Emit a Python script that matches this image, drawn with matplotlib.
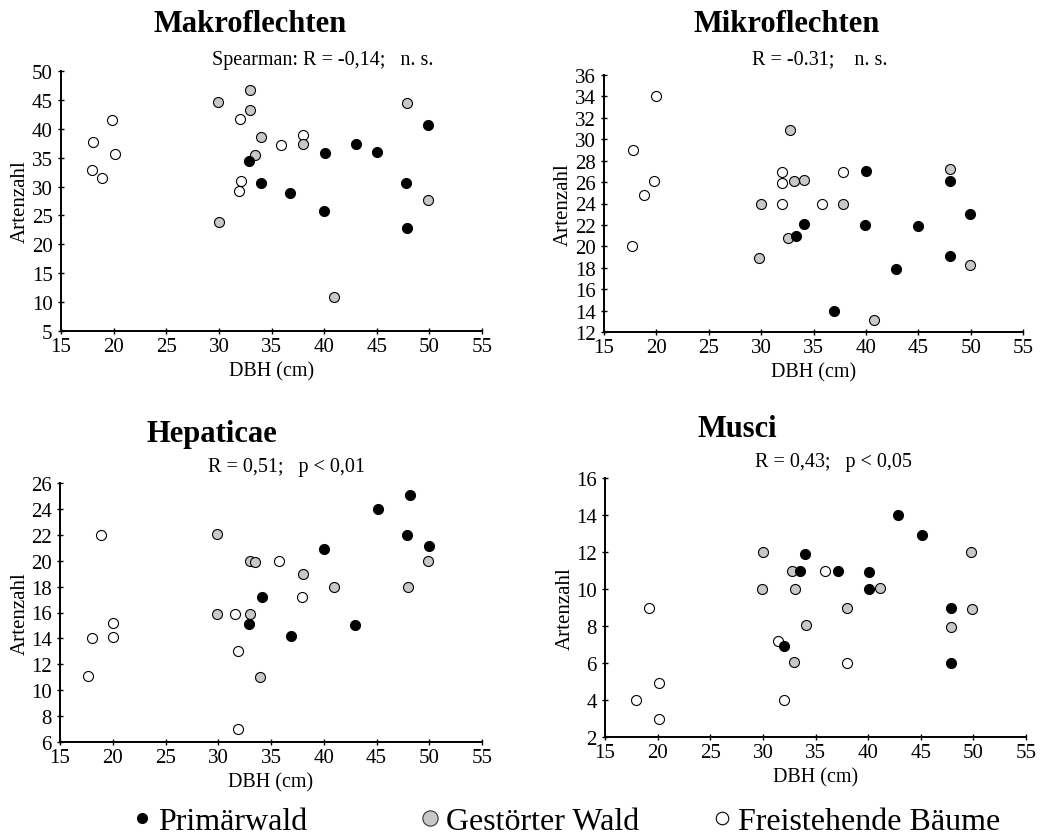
import numpy as np
import matplotlib
matplotlib.use("Agg")
import matplotlib.pyplot as plt
from matplotlib.lines import Line2D

plt.rcParams['font.family'] = ['Liberation Serif', 'DejaVu Serif']

W, H = 1064, 837

# ---- data: DBH (cm) and species counts, per group ----
# Makroflechten
makro_prim_x = [32.9, 34.0, 36.8, 40.1, 40.0, 43.0, 45.0, 49.9, 47.8, 47.9]
makro_prim_y = [34.4, 30.7, 28.9, 35.8, 25.7, 37.3, 35.9, 40.7, 30.7, 22.8]
makro_gest_x = [29.9, 33.0, 33.0, 34.0, 33.4, 38.0, 30.0, 47.9, 49.9, 40.9]
makro_gest_y = [44.6, 46.7, 43.3, 38.6, 35.4, 37.3, 23.8, 44.5, 27.7, 10.8]
makro_frei_x = [18.0, 19.8, 17.9, 18.9, 20.1, 32.0, 32.1, 31.9, 35.9, 38.0]
makro_frei_y = [37.7, 41.6, 32.8, 31.4, 35.6, 41.7, 31.0, 29.2, 37.2, 38.9]

# Mikroflechten
mikro_prim_x = [33.3, 34.1, 37.0, 40.05, 39.9, 42.9, 45.0, 48.0, 48.0, 49.9]
mikro_prim_y = [21.0, 22.1, 14.0, 27.0, 22.0, 17.9, 21.9, 26.1, 19.1, 23.0]
mikro_gest_x = [32.8, 33.1, 34.1, 30.0, 37.8, 32.6, 29.8, 48.0, 49.9, 40.8]
mikro_gest_y = [30.9, 26.1, 26.2, 24.0, 24.0, 20.8, 18.9, 27.2, 18.3, 13.15]
mikro_frei_x = [20.0, 17.8, 19.8, 18.8, 17.7, 32.0, 32.0, 32.0, 35.8, 37.8]
mikro_frei_y = [34.0, 29.0, 26.1, 24.8, 20.0, 26.9, 25.9, 24.0, 24.0, 26.9]

# Hepaticae
hep_prim_x = [32.9, 34.1, 36.9, 40.0, 43.0, 45.1, 47.9, 48.15, 50.0]
hep_prim_y = [15.1, 17.2, 14.2, 20.9, 15.0, 24.0, 22.0, 25.1, 21.1]
hep_gest_x = [29.9, 29.9, 33.0, 33.5, 33.0, 34.0, 38.0, 41.0, 48.0, 49.9]
hep_gest_y = [22.1, 15.9, 20.0, 19.9, 15.9, 11.0, 19.0, 18.0, 18.0, 20.0]
hep_frei_x = [18.9, 18.0, 20.0, 20.0, 17.7, 31.6, 31.9, 31.9, 35.8, 37.9]
hep_frei_y = [22.0, 14.0, 15.2, 14.1, 11.1, 15.9, 13.0, 7.0, 20.0, 17.2]

# Musci
musci_prim_x = [32.0, 33.5, 34.0, 37.1, 40.1, 40.1, 42.8, 45.1, 47.9, 47.9]
musci_prim_y = [6.9, 11.0, 11.9, 11.0, 10.9, 10.0, 14.0, 12.9, 8.95, 6.0]
musci_gest_x = [30.0, 29.9, 32.8, 33.05, 33.0, 34.1, 38.0, 41.1, 47.9, 49.8, 49.9]
musci_gest_y = [12.0, 10.0, 11.0, 10.0, 6.06, 8.03, 9.0, 10.05, 7.94, 12.0, 8.9]
musci_frei_x = [19.15, 17.9, 20.1, 20.1, 31.4, 32.0, 35.9, 38.0]
musci_frei_y = [9.0, 4.0, 4.9, 3.0, 7.2, 4.0, 11.0, 6.0]

titles = ['Makroflechten', 'Mikroflechten', 'Hepaticae', 'Musci']
stats = ['Spearman: R = -0,14;   n. s.', 'R = -0.31;    n. s.',
         'R = 0,51;   p < 0,01', 'R = 0,43;   p < 0,05']
y_ranges = [(5, 50, 5), (12, 36, 2), (6, 26, 2), (2, 16, 2)]
legend_labels = ['Primärwald', 'Gestörter Wald', 'Freistehende Bäume']

GRAY = '#c8c8c8'

panels = [
    (makro_prim_x, makro_prim_y, makro_gest_x, makro_gest_y, makro_frei_x, makro_frei_y),
    (mikro_prim_x, mikro_prim_y, mikro_gest_x, mikro_gest_y, mikro_frei_x, mikro_frei_y),
    (hep_prim_x, hep_prim_y, hep_gest_x, hep_gest_y, hep_frei_x, hep_frei_y),
    (musci_prim_x, musci_prim_y, musci_gest_x, musci_gest_y, musci_frei_x, musci_frei_y),
]

# axes boxes in pixels: left, top, right, bottom
boxes = [(61, 72, 482, 332), (604, 76, 1023, 333),
         (60, 484, 482, 743), (605, 479, 1026, 738)]
title_pos = [(250, 25), (787, 25), (212, 435), (737, 430)]
stat_pos = [(323, 60), (820, 60), (287, 468), (833, 463)]


def px(x, y):
    return x / W, 1 - y / H


fig = plt.figure(figsize=(W / 100, H / 100), dpi=100)

for i, data in enumerate(panels):
    l, t, r, b = boxes[i]
    ax = fig.add_axes([l / W, 1 - b / H, (r - l) / W, (b - t) / H])
    px_, py_, gx, gy, fx, fy = data
    kw = dict(s=52, edgecolors='black', linewidths=0.8, clip_on=False, zorder=3)
    ax.scatter(fx, fy, facecolors='white', **kw)
    ax.scatter(gx, gy, facecolors=GRAY, **kw)
    ax.scatter(px_, py_, facecolors='black', **kw)

    y0, y1, ys = y_ranges[i]
    ax.set_xlim(15, 55)
    ax.set_ylim(y0, y1)
    ax.set_xticks(np.arange(15, 56, 5))
    ax.set_yticks(np.arange(y0, y1 + 0.1, ys))
    for s in ['top', 'right']:
        ax.spines[s].set_visible(False)
    for s in ['left', 'bottom']:
        ax.spines[s].set_linewidth(1.4)
    ax.tick_params(direction='inout', length=4, width=1, labelsize=15)
    ax.tick_params(axis='x', pad=2)
    ax.tick_params(axis='y', pad=4)
    ax.set_xlabel('DBH (cm)', fontsize=14.5, labelpad=4)
    ax.set_ylabel('Artenzahl', fontsize=15, labelpad=1)

    tx, ty = px(*title_pos[i])
    fig.text(tx, ty, titles[i], fontsize=22, fontweight='bold', ha='center', va='center')
    sx, sy = px(*stat_pos[i])
    fig.text(sx, sy, stats[i], fontsize=14.5, ha='center', va='center')

# legend at the bottom, three separate entries
leg_handles = [
    Line2D([], [], marker='o', ls='none', markersize=7, markerfacecolor='black',
           markeredgecolor='black'),
    Line2D([], [], marker='o', ls='none', markersize=11, markerfacecolor=GRAY,
           markeredgecolor='#333333', markeredgewidth=0.8),
    Line2D([], [], marker='o', ls='none', markersize=9, markerfacecolor='white',
           markeredgecolor='black', markeredgewidth=0.8),
]
leg_x = [126, 414, 706]
for h, lab, lx in zip(leg_handles, legend_labels, leg_x):
    fig.legend([h], [lab], loc='center left', bbox_to_anchor=px(lx, 822),
               frameon=False, fontsize=23, handletextpad=0.0, handlelength=1.0,
               borderpad=0, borderaxespad=0)

fig.savefig('out.png', dpi=100)
